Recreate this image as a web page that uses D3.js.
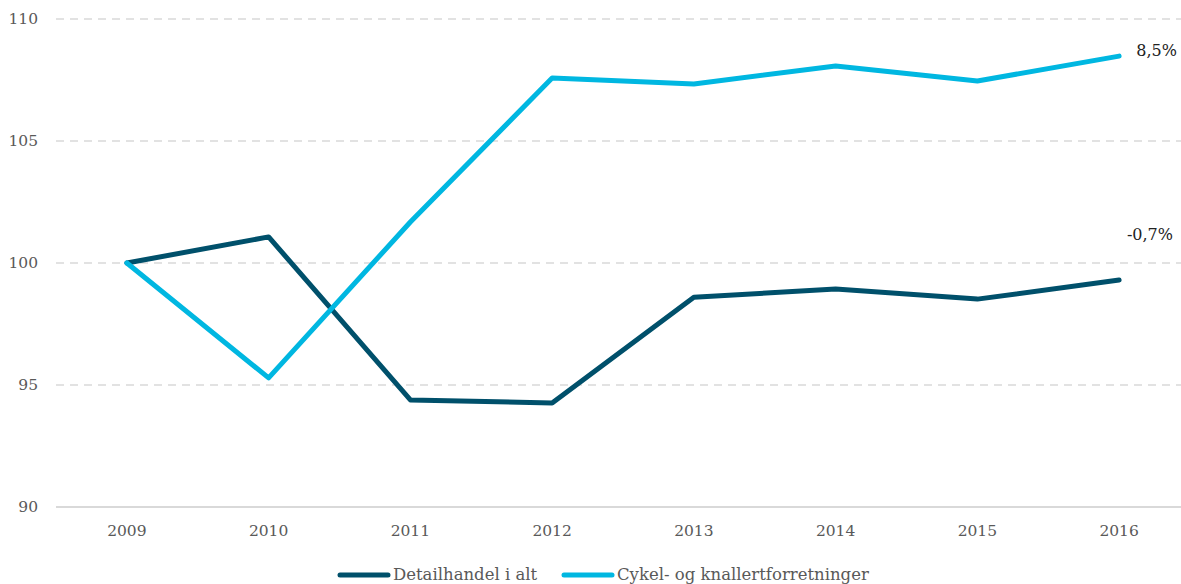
<!DOCTYPE html>
<html>
<head>
<meta charset="utf-8">
<script src="https://cdn.jsdelivr.net/npm/d3@7"></script>
<style>
	body { margin: 0; background: #fff; }
	svg { display: block; font-family: "DejaVu Serif", serif; }
	.tick-label { fill: #595959; font-size: 15.5px; }
	.end-label { fill: #222; font-size: 16px; }
	.legend-label { fill: #595959; font-size: 16.5px; }
</style>
</head>
<body>
<script>
var years = ['2009', '2010', '2011', '2012', '2013', '2014', '2015', '2016'];
var detailhandel = [100, 101.07, 94.39, 94.26, 98.6, 98.93, 98.52, 99.3];
var cykel = [100, 95.29, 101.68, 107.58, 107.34, 108.07, 107.46, 108.48];
var yTicks = [90, 95, 100, 105, 110];
var seriesNames = ['Detailhandel i alt', 'Cykel- og knallertforretninger'];
var endLabels = ['-0,7%', '8,5%'];

var width = 1181, height = 584;
var colors = ['#00506b', '#00b7e1'];

var svg = d3.select('body').append('svg')
	.attr('width', width)
	.attr('height', height);

var x = d3.scalePoint().domain(years).range([56, 1190]).padding(0.5);
var y = d3.scaleLinear().domain([90, 110]).range([507, 19]);

// grid lines
svg.selectAll('.grid').data(yTicks).enter().append('line')
	.attr('x1', 56).attr('x2', width)
	.attr('y1', function (d) { return y(d); })
	.attr('y2', function (d) { return y(d); })
	.attr('stroke', '#d9d9d9')
	.attr('stroke-width', function (d) { return d === 90 ? 2 : 1.5; })
	.attr('stroke-dasharray', function (d) { return d === 90 ? null : '8,6'; });

// y labels
svg.selectAll('.ylab').data(yTicks).enter().append('text')
	.attr('class', 'tick-label')
	.attr('x', 38)
	.attr('y', function (d) { return y(d) + 5; })
	.attr('text-anchor', 'end')
	.text(function (d) { return d; });

// x labels
svg.selectAll('.xlab').data(years).enter().append('text')
	.attr('class', 'tick-label')
	.attr('x', function (d) { return x(d); })
	.attr('y', 536)
	.attr('text-anchor', 'middle')
	.text(function (d) { return d; });

var line = d3.line()
	.x(function (d, i) { return x(years[i]); })
	.y(function (d) { return y(d); });

var data = [detailhandel, cykel];

svg.selectAll('.series').data(data).enter().append('path')
	.attr('d', line)
	.attr('fill', 'none')
	.attr('stroke', function (d, i) { return colors[i]; })
	.attr('stroke-width', 5)
	.attr('stroke-linecap', 'round')
	.attr('stroke-linejoin', 'round');

// end labels
svg.append('text').attr('class', 'end-label')
	.attr('x', 1173).attr('y', 240).attr('text-anchor', 'end')
	.text(endLabels[0]);
svg.append('text').attr('class', 'end-label')
	.attr('x', 1177).attr('y', 56).attr('text-anchor', 'end')
	.text(endLabels[1]);

// legend
var legendX = [338, 562];
var legend = svg.selectAll('.legend').data(seriesNames).enter().append('g')
	.attr('transform', function (d, i) { return 'translate(' + legendX[i] + ',575)'; });
legend.append('line')
	.attr('x1', 2).attr('x2', 50)
	.attr('stroke', function (d, i) { return colors[i]; })
	.attr('stroke-width', 5)
	.attr('stroke-linecap', 'round');
legend.append('text')
	.attr('class', 'legend-label')
	.attr('x', 55).attr('y', 5)
	.text(function (d) { return d; });
</script>
</body>
</html>
